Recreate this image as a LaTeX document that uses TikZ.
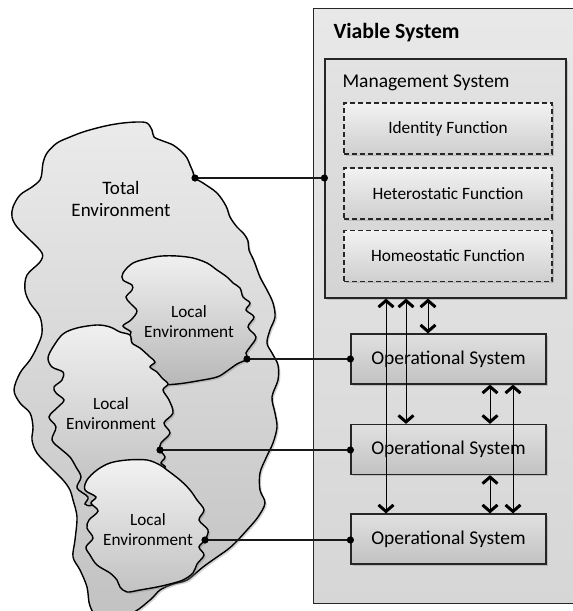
\documentclass[tikz,border=0pt]{standalone}
\usepackage{fontspec}
\setmainfont{Carlito}
\usetikzlibrary{arrows.meta,shadows,calc}
\begin{document}
\begin{tikzpicture}[x=1pt,y=-1pt,
  shd/.style={drop shadow={shadow xshift=1.8pt,shadow yshift=-1.8pt,opacity=0.35}},
  outerbox/.style={top color=black!9,bottom color=black!16},
  outerline/.style={draw=black!85,line width=1.2pt},
  mgmtbox/.style={draw=black!85,line width=1.2pt,top color=black!11,bottom color=black!17,minimum width=241pt,minimum height=239pt,shd},
  fnbox/.style={draw=black!85,line width=1.1pt,dashed,dash pattern=on 5pt off 3pt,top color=black!5,bottom color=black!19,minimum width=208pt,minimum height=51pt,font=\fontsize{17.3}{20}\selectfont,shd},
  opbox/.style={draw=black!85,line width=1.2pt,top color=black!12,bottom color=black!24,minimum width=195pt,minimum height=50pt,font=\fontsize{19.5}{22}\selectfont,shd},
  cloud/.style={draw=black,line width=1.4pt,shd},
  envtext/.style={align=center,font=\fontsize{19}{21.5}\selectfont},
  loctext/.style={align=center,font=\fontsize{17.2}{20}\selectfont},
  conn/.style={line width=1.1pt,black!90},
  dotc/.style={fill=black},
  barb/.tip={Straight Barb[length=6.5pt,width=15pt,line width=3pt]},
  biarrow/.style={line width=1pt,barb-barb}
]
\useasboundingbox (0,0) rectangle (573,611);

% Viable system (open on the right, runs off the page)
\node[outerbox,minimum width=330pt,minimum height=594pt] (vs) at (479,306) {};
\draw[outerline] (vs.north east) -- (vs.north west) -- (vs.south west) -- (vs.south east);
\node[anchor=west,font=\fontsize{21.7}{24}\selectfont\bfseries] (vst) at (330,33) {Viable System};

% Management system
\node[mgmtbox] (ms) at (445.5,178.5) {};
\node[anchor=west,font=\fontsize{19.5}{22}\selectfont] (mst) at (339,83) {Management System};
\node[fnbox] (idf) at (448,128.5) {Identity Function};
\node[fnbox] (hetf) at (448,193.5) {Heterostatic Function};
\node[fnbox] (homf) at (448,256) {Homeostatic Function};

% Operational systems
\node[opbox] (os1) at (448.5,359) {Operational System};
\node[opbox] (os2) at (448.5,449.5) {Operational System};
\node[opbox] (os3) at (448.5,539) {Operational System};

% arrows
\coordinate (xa) at (386,0);
\coordinate (xb) at (406,0);
\coordinate (xc) at (428,0);
\coordinate (xd) at (490,0);
\coordinate (xe) at (513,0);
\draw[biarrow] (xa |- ms.south) -- (xa |- os3.north);
\draw[biarrow] (xb |- ms.south) -- (xb |- os2.north);
\draw[biarrow] (xc |- ms.south) -- (xc |- os1.north);
\draw[biarrow] (xd |- os1.south) -- (xd |- os2.north);
\draw[biarrow] (xe |- os1.south) -- (xe |- os3.north);
\draw[biarrow] (xd |- os2.south) -- (xd |- os3.north);

% Total environment
\draw[cloud,top color=black!8,bottom color=black!24] plot[smooth cycle,tension=0.55] coordinates {
(43,163) (47,153) (57,143) (70,137) (83,132) (97,128) (110,125) (123,123) (137,122) (147,123) (152,130) (154,137) (163,141) (173,145) (182,152) (187,158) (190,165) (193,172) (195,178) (203,183) (217,193) (226,206) (230,217) (237,227) (244,234) (248,241) (249,250) (254,261) (260,277) (267,290) (273,303) (275,317) (270,330) (267,343) (272,353) (278,365) (278,380) (272,397) (275,413) (277,427) (273,443) (266,458) (260,473) (260,490) (265,503) (258,517) (247,530) (235,543) (227,550) (217,557) (203,567) (187,580) (173,584) (160,590) (150,600) (130,614) (100,618) (90,606) (87,587) (80,570) (73,557) (75,540) (77,517) (73,500) (70,490) (63,480) (50,467) (37,453) (32,440) (33,427) (30,413) (20,403) (14,390) (20,373) (30,360) (37,347) (42,333) (40,317) (30,303) (25,290) (27,275) (40,262) (42,253) (30,240) (17,227) (12,217) (13,207) (20,195) (32,187) (40,180) (42,172)};
\node[envtext] (tet) at (121,199) {Total\\Environment};

% Local environment 1
\draw[cloud,top color=black!6,bottom color=black!28] plot[smooth cycle,tension=0.55] coordinates {
(133,263) (150,258) (162,256) (177,256) (193,258) (207,263) (217,270) (227,277) (233,283) (240,288) (243,297) (250,303) (246,310) (254,317) (248,327) (256,337) (250,347) (246,353) (247,359) (237,364) (227,371) (217,377) (197,381) (177,384) (160,384) (145,375) (133,350) (129,338) (131,332) (123,326) (131,320) (137,311) (130,303) (126,297) (132,290) (132,285) (123,280) (123,273)};
\node[loctext] (l1t) at (189,322) {Local\\Environment};

% Local environment 2
\draw[cloud,top color=black!6,bottom color=black!26] plot[smooth cycle,tension=0.55] coordinates {
(53,347) (63,334) (77,328) (97,325) (110,327) (120,332) (130,335) (132,343) (140,348) (150,357) (155,362) (150,367) (157,372) (162,378) (168,384) (163,390) (169,400) (173,413) (164,423) (170,433) (161,443) (160,450) (165,457) (161,463) (165,468) (150,480) (110,495) (92,505) (85,504) (88,497) (77,488) (81,477) (76,467) (70,457) (62,450) (52,440) (56,427) (49,417) (58,407) (64,400) (56,393) (54,387) (62,380) (63,372) (52,367) (48,358)};
\node[loctext] (l2t) at (111,414) {Local\\Environment};

% Local environment 3
\draw[cloud,top color=black!5,bottom color=black!24] plot[smooth cycle,tension=0.55] coordinates {
(87,480) (97,470) (110,463) (127,460) (147,460) (160,465) (167,470) (180,480) (190,490) (197,500) (204,510) (199,520) (208,530) (205,540) (199,547) (204,555) (197,564) (193,573) (183,580) (170,584) (157,587) (140,590) (127,592) (120,587) (117,580) (110,573) (97,565) (90,555) (86,547) (93,538) (87,528) (89,520) (98,511) (91,503) (96,497) (85,490)};
\node[loctext] (l3t) at (148,530) {Local\\Environment};

% connectors
\coordinate (te) at (195,178);
\coordinate (le1) at (247,359);
\coordinate (le2) at (160,450);
\coordinate (le3) at (205,540);
\draw[conn] (te) -- (te -| ms.west);
\draw[conn] (le1) -- (le1 -| os1.west);
\draw[conn] (le2) -- (le2 -| os2.west);
\draw[conn] (le3) -- (le3 -| os3.west);
\foreach \p in {te,le1,le2,le3} \fill[dotc] (\p) circle (3.6pt);
\fill[dotc] (te -| ms.west) circle (3.6pt);
\fill[dotc] (le1 -| os1.west) circle (3.6pt);
\fill[dotc] (le2 -| os2.west) circle (3.6pt);
\fill[dotc] (le3 -| os3.west) circle (3.6pt);
\end{tikzpicture}
\end{document}
